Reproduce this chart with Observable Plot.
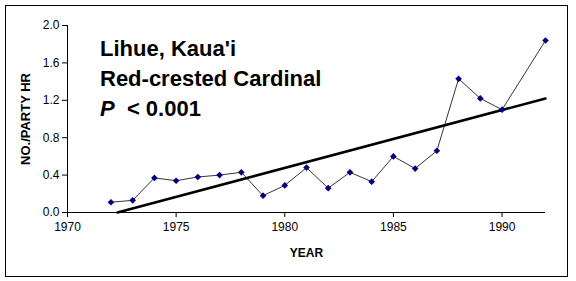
<!DOCTYPE html>
<html>
<head>
<meta charset="utf-8">
<script src="https://cdn.jsdelivr.net/npm/d3@7"></script>
<script src="https://cdn.jsdelivr.net/npm/@observablehq/plot@0.6"></script>
<style>
  body { margin: 0; background: #fff; }
  #wrap { position: relative; width: 576px; height: 281px; overflow: hidden; font-family: Arial, "Liberation Sans", sans-serif; }
  #border { position: absolute; left: 5px; top: 5px; width: 563px; height: 272px; box-sizing: border-box; border: 1px solid #000; pointer-events: none; }
  #note { position: absolute; left: 100px; top: 34px; font-weight: bold; font-size: 22px; line-height: 30px; color: #000; }
</style>
</head>
<body>
<div id="wrap">
  <div id="chart"></div>
  <div id="note">Lihue, Kaua'i<br>Red-crested Cardinal<br><i>P</i>&nbsp; &lt; 0.001</div>
  <div id="border"></div>
</div>
<script>
const years = [1972, 1973, 1974, 1975, 1976, 1977, 1978, 1979, 1980, 1981, 1982, 1983, 1984, 1985, 1986, 1987, 1988, 1989, 1990, 1992];
const counts = [0.11, 0.13, 0.37, 0.34, 0.38, 0.40, 0.43, 0.18, 0.29, 0.48, 0.26, 0.43, 0.33, 0.60, 0.47, 0.66, 1.43, 1.22, 1.10, 1.84];
const trendYears = [1972.3, 1992];
const trendValues = [0, 1.22];
const xTicks = [1970, 1975, 1980, 1985, 1990];
const yTicks = [0, 0.4, 0.8, 1.2, 1.6, 2.0];
const xLabel = "YEAR";
const yLabel = "NO./PARTY HR";

const data = years.map((y, i) => ({year: y, value: counts[i]}));
const trend = trendYears.map((y, i) => ({year: y, value: trendValues[i]}));

const chart = Plot.plot({
  width: 576,
  height: 281,
  marginLeft: 67,
  marginRight: 31,
  marginTop: 25,
  marginBottom: 69,
  style: { fontFamily: "Arial, 'Liberation Sans', sans-serif", fontSize: "12px", background: "#fff", color: "#000" },
  x: { domain: [1970, 1992] },
  y: { domain: [0, 2] },
  marks: [
    Plot.axisY(yTicks, { tickFormat: d => d.toFixed(1), tickSize: 5, tickPadding: 3, label: null, fontSize: 12 }),
    Plot.axisX(xTicks, { tickFormat: d => String(d), tickSize: 5, tickPadding: 5, label: null, fontSize: 12 }),
    Plot.ruleX([1970], { stroke: "#000", strokeWidth: 1 }),
    Plot.ruleY([0], { stroke: "#000", strokeWidth: 1 }),
    Plot.line(trend, { x: "year", y: "value", stroke: "#000", strokeWidth: 2.5 }),
    Plot.line(data, { x: "year", y: "value", stroke: "#000", strokeWidth: 0.8 }),
    Plot.dot(data, { x: "year", y: "value", symbol: "diamond2", r: 3, fill: "#000080", stroke: "none" }),
    Plot.text([yLabel], { frameAnchor: "left", dx: -42, rotate: -90, textAnchor: "middle", lineAnchor: "middle", text: d => d, fontWeight: "bold", fontSize: 13 }),
    Plot.text([xLabel], { frameAnchor: "bottom", dy: 41, lineAnchor: "middle", text: d => d, fontWeight: "bold", fontSize: 12 })
  ]
});
document.getElementById("chart").appendChild(chart);
</script>
</body>
</html>
